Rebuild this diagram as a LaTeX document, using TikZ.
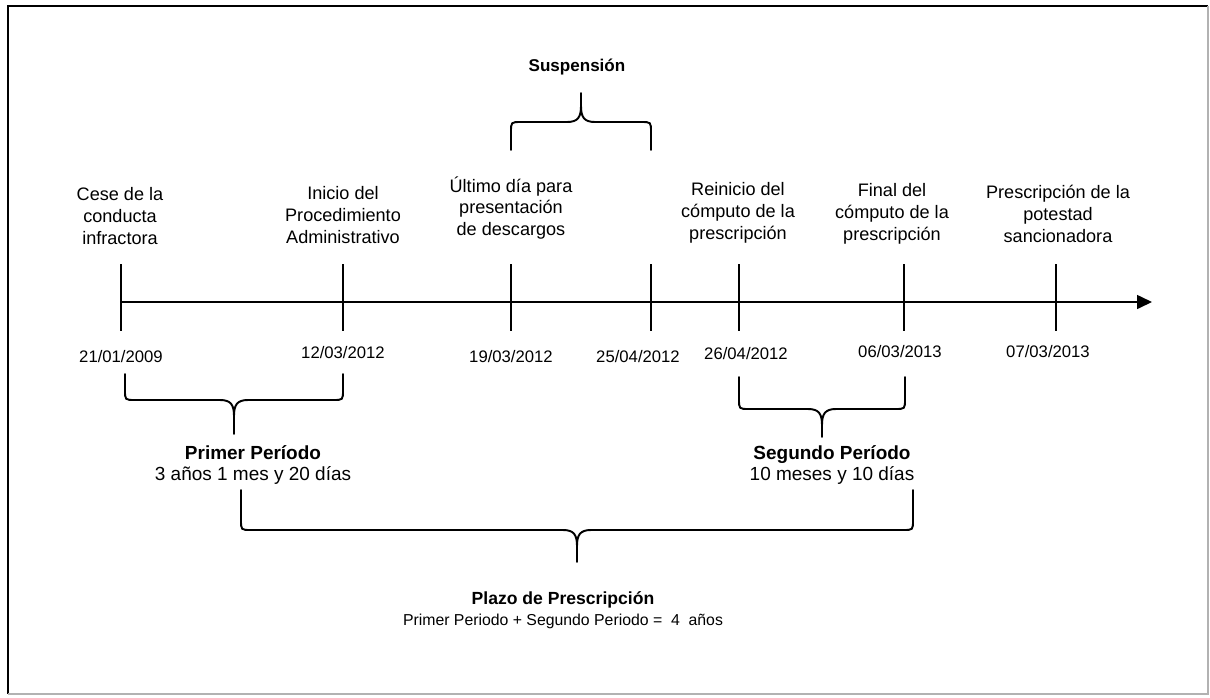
\documentclass[tikz,border=0pt]{standalone}
\usepackage{fontspec}
\setmainfont{Liberation Sans}
\usetikzlibrary{arrows.meta}

% brace from x1 to x2: ends at y1, flat part at y2, tip at y3
\newcommand{\tlbrace}[5]{%
  \pgfmathsetmacro{\bmid}{(#1+#2)/2}%
  \pgfmathsetmacro{\bsg}{sign(#5-#4)}%
  \draw[brc] (#1,#3) -- (#1,{#4-10*\bsg}) .. controls (#1,#4) .. ({#1+10},#4)
    -- ({\bmid-14},#4) .. controls ({\bmid-3},#4) and (\bmid,{#4+5*\bsg}) .. (\bmid,{#4+16*\bsg})
    -- (\bmid,#5);
  \draw[brc] (#2,#3) -- (#2,{#4-10*\bsg}) .. controls (#2,#4) .. ({#2-10},#4)
    -- ({\bmid+14},#4) .. controls ({\bmid+3},#4) and (\bmid,{#4+5*\bsg}) .. (\bmid,{#4+16*\bsg});
}

\begin{document}
\begin{tikzpicture} [
    x=0.02cm, y=-0.02cm,
    evt/.style={align=center, font=\fontsize{10.3}{12.5}\selectfont},
    fecha/.style={font=\fontsize{9.5}{12}\selectfont},
    per/.style={align=center, font=\fontsize{10.8}{12}\selectfont},
    brc/.style={line width=1.1pt, line cap=round},
    hito/.style={line width=0.9pt},
    ]
    \useasboundingbox (0,0) rectangle (1210,697);
    \fill[white] (0,0) rectangle (1210,697);
    % frame
    \draw[line width=1.3pt] (1208,6) -- (8,6) -- (8,694);
    \draw[black!30, line width=0.6pt] (8,694) -- (1208,694) -- (1208,6);

    % timeline
    \coordinate (ini) at (121,302);
    \coordinate (fin) at (1152,302);
    \draw[line width=0.9pt, -{Triangle[length=0.3cm,width=0.28cm]}] (ini) -- (fin);
    \foreach \name/\x in {t1/121, t2/343, t3/511, t4/651, t5/739, t6/904, t7/1056} {
      \coordinate (\name) at (\x,302);
      \draw[hito] (\x,264) -- (\x,331);
    }

    % events
    \node[evt] (cese) at (120,216) {Cese de la\\conducta\\infractora};
    \node[evt] (inicio) at (343,215) {Inicio del\\Procedimiento\\Administrativo};
    \node[evt] (ultimo) at (511,208) {Último día para\\presentación\\de descargos};
    \node[evt] (reinicio) at (738,213) {Reinicio del\\cómputo de la\\prescripción};
    \node[evt] (final) at (892,214) {Final del\\cómputo de la\\prescripción};
    \node[evt] (prescr) at (1058,214) {Prescripción de la\\potestad\\sancionadora};

    % dates
    \node[fecha] (d1) at (121,357) {21/01/2009};
    \node[fecha] (d2) at (343,353) {12/03/2012};
    \node[fecha] (d3) at (511,357) {19/03/2012};
    \node[fecha] (d4) at (638,357) {25/04/2012};
    \node[fecha] (d5) at (746,354) {26/04/2012};
    \node[fecha] (d6) at (900,352) {06/03/2013};
    \node[fecha] (d7) at (1048,352) {07/03/2013};

    % braces
    \tlbrace{511}{651}{150}{122}{93}
    \node[per, font=\fontsize{9.7}{12}\selectfont] (susp) at (577,67) {\textbf{Suspensión}};
    \tlbrace{125}{343}{374}{400}{434}
    \node[per] (primer) at (253,465) {\textbf{Primer Período}\\3 años 1 mes y 20 días};
    \tlbrace{739}{905}{377}{409}{437}
    \node[per] (segundo) at (832,465) {\textbf{Segundo Período}\\10 meses y 10 días};
    \tlbrace{241}{913}{490}{530}{562}
    \node[per, font=\fontsize{10}{12}\selectfont] (plazo) at (563,610)
      {\textbf{Plazo de Prescripción}\\{\fontsize{9}{11}\selectfont Primer Periodo + Segundo Periodo = \ 4 \ años}};
  \end{tikzpicture}
\end{document}
